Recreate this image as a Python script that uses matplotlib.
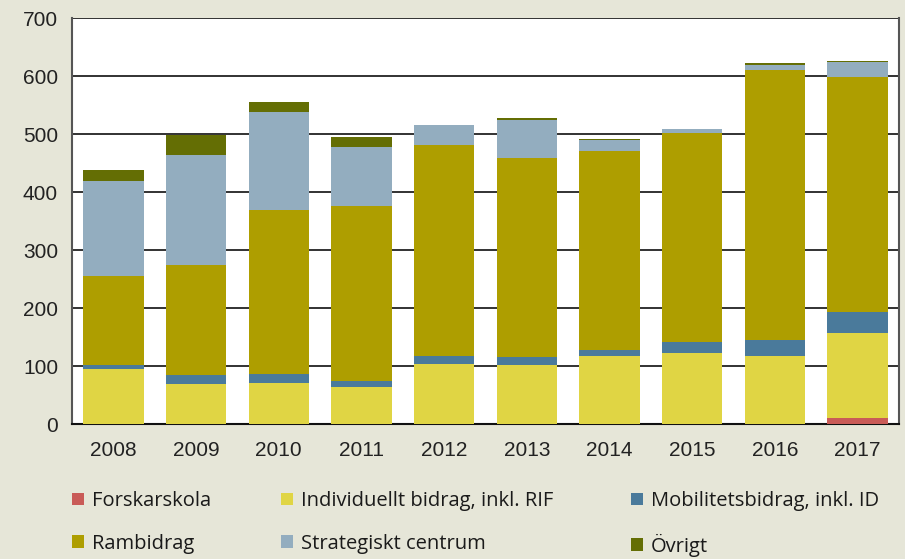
import matplotlib
matplotlib.use("Agg")
import matplotlib.pyplot as plt
from matplotlib.patches import Patch
import numpy as np

years = ["2008", "2009", "2010", "2011", "2012", "2013", "2014", "2015", "2016", "2017"]
series_names = ["Forskarskola", "Individuellt bidrag, inkl. RIF", "Mobilitetsbidrag, inkl. ID",
                "Rambidrag", "Strategiskt centrum", "Övrigt"]
forskarskola = [0, 0, 0, 0, 0, 0, 0, 0, 0, 11]
individuellt = [95, 69, 71, 63, 104, 102, 118, 123, 118, 146]
mobilitet = [7, 16, 16, 11, 14, 13, 10, 18, 27, 36]
rambidrag = [154, 189, 282, 302, 363, 344, 342, 361, 466, 405]
strategiskt = [163, 189, 169, 101, 34, 66, 19, 6, 8, 26]
ovrigt = [19, 36, 17, 17, 1, 2, 2, 1, 3, 2]
yticks = [0, 100, 200, 300, 400, 500, 600, 700]

colors = ["#c95b57", "#e0d544", "#4a7a9b", "#ae9e00", "#93adbf", "#646e04"]
bg = "#e6e6d8"

fig = plt.figure(figsize=(9.05, 5.59), dpi=100, facecolor=bg)
ax = fig.add_axes([72 / 905, 1 - 424 / 559, (899 - 72) / 905, (424 - 18) / 559])
ax.set_facecolor("white")

x = np.arange(len(years))
bottom = np.zeros(len(years))
data = [forskarskola, individuellt, mobilitet, rambidrag, strategiskt, ovrigt]
for vals, c, name in zip(data, colors, series_names):
    ax.bar(x, vals, 0.73, bottom=bottom, color=c, label=name, zorder=3)
    bottom += np.array(vals)

ax.set_xlim(-0.5, len(years) - 0.5)
ax.set_ylim(0, 700)
ax.set_yticks(yticks)
ax.set_xticks(x)
ax.set_xticklabels(years)
ax.set_axisbelow(True)
ax.yaxis.grid(True, color="#222222", linewidth=1.3)
ax.xaxis.grid(False)

for s in ["left", "right"]:
    ax.spines[s].set_color("#555555")
    ax.spines[s].set_linewidth(1.5)
ax.spines["bottom"].set_color("#111111")
ax.spines["bottom"].set_linewidth(1.5)
ax.spines["top"].set_visible(False)

ax.tick_params(axis="both", length=0, labelsize=15, labelcolor="#222222")
ax.tick_params(axis="y", pad=10)
ax.tick_params(axis="x", pad=12)
for lab in ax.get_xticklabels() + ax.get_yticklabels():
    lab.set_fontfamily("Liberation Sans")

# Legend: three columns, two rows
cols = [[0, 3], [1, 4], [2, 5]]
col_x = [72, 281, 631]
for ci, idxs in zip(col_x, cols):
    handles = [Patch(facecolor=colors[i], edgecolor="none") for i in idxs]
    labels = [series_names[i] for i in idxs]
    leg = fig.legend(handles, labels, loc="upper left",
                     bbox_to_anchor=(ci / 905, 1 - 491 / 559),
                     frameon=False, borderpad=0, borderaxespad=0,
                     handlelength=0.58, handleheight=0.58, handletextpad=0.42,
                     labelspacing=1.12,
                     prop={"family": "Open Sans", "size": 14.5})
    for t in leg.get_texts():
        t.set_color("#1a1a1a")

fig.savefig("out.png", dpi=100, facecolor=bg)
